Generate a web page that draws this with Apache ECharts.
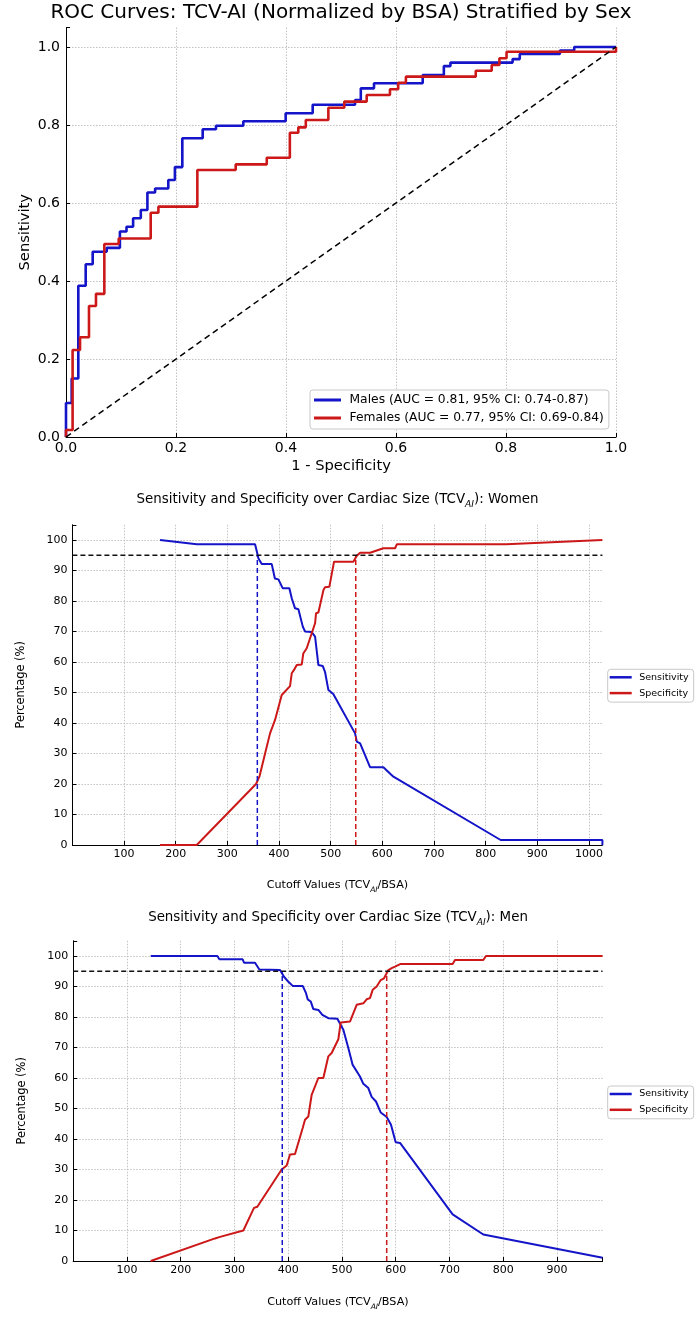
<!DOCTYPE html>
<html><head><meta charset="utf-8">
<script src="https://cdn.jsdelivr.net/npm/echarts@6/dist/echarts.min.js"></script>
<style>html,body{margin:0;padding:0;background:#fff}#c{width:700px;height:1322px}</style>
</head><body><div id="c"></div>
<script>
// ---------- ROC data ----------
const rocTicks = [0, 0.2, 0.4, 0.6, 0.8, 1.0];
const maleFpr = [0,0,0.0103,0.0224,0.0358,0.0485,0.074,0.098,0.110,0.122,0.136,0.148,0.162,0.186,0.198,0.2115,0.2485,0.2727,0.3224,0.3994,0.4485,0.5255,0.536,0.560,0.6485,0.687,0.699,0.812,0.825,0.898,0.924,1.0];
const maleTpr = [0,0.087,0.150,0.388,0.443,0.475,0.485,0.527,0.539,0.561,0.582,0.627,0.637,0.659,0.692,0.766,0.789,0.798,0.8095,0.830,0.852,0.864,0.894,0.907,0.928,0.951,0.960,0.969,0.982,0.991,1.0,1.0];
const femFpr = [0,0,0.012,0.0255,0.0418,0.0545,0.0697,0.0958,0.154,0.168,0.2388,0.3085,0.365,0.407,0.4224,0.436,0.477,0.506,0.5467,0.589,0.604,0.618,0.745,0.774,0.788,0.801,1.0,1.0];
const femTpr = [0,0.018,0.223,0.2556,0.336,0.367,0.495,0.509,0.575,0.5906,0.6846,0.699,0.716,0.780,0.794,0.813,0.8444,0.860,0.877,0.8915,0.9085,0.924,0.939,0.954,0.971,0.988,0.988,1.0];
const diagX = [0, 1];
const diagY = [0, 1];
const maleLabel = 'Males (AUC = 0.81, 95% CI: 0.74-0.87)';
const femLabel = 'Females (AUC = 0.77, 95% CI: 0.69-0.84)';

// ---------- Women cutoff data ----------
const wSensX = [169.7,240.7,353.6,358,360,366.5,385.9,392,398.8,407,420,424.6,431,437.5,446,450.4,463.3,469.8,476.2,484.6,489,495.6,505,547.2,550.5,557,576.2,602,621.4,829,1026,1026];
const wSensY = [100,98.6,98.6,95.6,94,92.1,92.1,87.4,87.1,84.2,84.2,80.9,77.6,77.3,71.6,70,69.8,68.3,59,58.7,56.8,50.8,49.5,36.6,33.9,33.3,25.5,25.5,22.4,1.64,1.64,0];
const wSpecX = [169.7,240.7,355.5,362,373,382.6,392.3,405.2,421.3,424.6,429,434.3,444,447,453.6,469.8,471.7,476.2,486,489,497.5,506.5,544,550.5,557,576.2,602,624.7,628,840,1026];
const wSpecY = [0,0,20,22.4,30,36.6,41,49.2,52.1,56.3,57.4,59,59.2,62.8,64.5,72.7,76,76.2,83.6,84.5,84.7,92.9,92.9,94.8,95.8,95.8,97.3,97.3,98.6,98.6,100];
const wSensCut = 358;
const wSpecCut = 548.5;

// ---------- Men cutoff data ----------
const mSensX = [144.2,268.2,272,315.3,317.8,338.3,346.4,384.8,392.2,398.4,408.4,427,433.2,436.3,441.9,446.8,456.1,463.6,474.7,491.5,502.6,511.9,520,533.6,539.8,549.1,555.3,563.4,572.1,583.3,591.3,600,608.1,706,763,985];
const mSensY = [100,100,98.9,98.9,97.8,97.8,95.6,95.4,93.2,91.9,90.2,90.2,87.8,85.8,85.1,82.6,82.3,80.7,79.6,79.4,75.8,69.8,64.3,60.5,58.1,56.7,53.8,52.3,48.7,47.2,44.7,38.9,38.7,15.3,8.7,1.1];
const mSpecX = [144.2,263.9,273.2,316.6,336.4,342.6,387.9,397.2,403.4,412.7,427,431.3,437.5,443.7,456.1,465.4,474.7,480.9,493.3,497.7,515,527.4,539.8,546,552.2,557.2,564.7,572.1,578.3,586.4,592.6,598.8,609.3,706,710.3,763,768,985];
const mSpecY = [0,7.4,7.9,10,17.4,17.8,30,31.3,34.9,35.1,43.6,46.3,47.4,54.5,60,60,67.1,68.2,72.7,78.2,78.5,84,84.5,85.8,86.2,88.9,90,92.1,92.7,95.4,96,96.5,97.4,97.4,98.7,98.7,100,100];
const mSensCut = 389;
const mSpecCut = 583.3;

const threshold = 95;
const pctTicks = [0,10,20,30,40,50,60,70,80,90,100];
const cutTicks = [100,200,300,400,500,600,700,800,900,1000];

// ---------- helpers ----------
const FONT = 'DejaVu Sans';
const BLUE = '#1414c8';
const RED = '#cc1818';
const zip = (xs, ys) => xs.map((x, i) => [x, ys[i]]);

const gridLine = { show: true, showMaxLine: false, lineStyle: { color: '#b4b4b4', width: 0.8, type: [1.5, 1.5] } };
const tick = { show: true, inside: true, length: 4, lineStyle: { color: '#000', width: 1 } };
const axLine = { show: true, onZero: false, lineStyle: { color: '#000', width: 1 } };
const subRich = (fs) => ({
  n: { fontFamily: FONT, fontSize: fs, fontWeight: 'normal', color: '#000', lineHeight: 18, verticalAlign: 'middle' },
  s: { fontFamily: FONT, fontSize: fs * 0.68, fontWeight: 'normal', fontStyle: 'italic', color: '#000', lineHeight: 10, verticalAlign: 'bottom' }
});

function cutAxisX(gi, maxV, gap) {
  return {
    gridIndex: gi, type: 'value', min: 0, max: maxV, interval: 100,
    axisLine: axLine, axisTick: tick, splitLine: gridLine,
    axisLabel: { fontFamily: FONT, fontSize: 11, color: '#000', margin: 4,
      formatter: v => (v > 0 && cutTicks.indexOf(Math.round(v)) >= 0 && Math.abs(v - Math.round(v)) < 1e-6) ? String(Math.round(v)) : '' },
    name: '{n|Cutoff Values (TCV}{s|AI}{n|/BSA)}', nameLocation: 'middle', nameGap: gap,
    nameTextStyle: { fontWeight: 'normal', rich: subRich(11.2) }
  };
}
function pctAxisY(gi) {
  return {
    gridIndex: gi, type: 'value', min: 0, max: 105, interval: 10,
    axisLine: axLine, axisTick: tick, splitLine: gridLine,
    axisLabel: { fontFamily: FONT, fontSize: 11, color: '#000', margin: 5,
      formatter: v => pctTicks.indexOf(Math.round(v)) >= 0 && Math.abs(v - Math.round(v)) < 1e-6 ? String(Math.round(v)) : '' },
    name: 'Percentage (%)', nameLocation: 'middle', nameGap: 46,
    nameTextStyle: { fontFamily: FONT, fontSize: 11.4, color: '#000' }
  };
}
function line(name, gi, data, color, width, extra) {
  return Object.assign({
    name, type: 'line', xAxisIndex: gi, yAxisIndex: gi, data, symbol: 'none', showSymbol: false,
    lineStyle: { color, width }, itemStyle: { color }, silent: true, animation: false, z: 3
  }, extra || {});
}
function dashed(gi, data, color) {
  return line('', gi, data, color, 1.5, { lineStyle: { color, width: 1.5, type: [5, 3] }, z: 4 });
}
function panelLegend(top) {
  return {
    data: ['Sensitivity', 'Specificity'], left: 607.7, top, orient: 'vertical', icon: 'rect',
    itemWidth: 22, itemHeight: 2.5, itemGap: 5.8, padding: [3, 5, 4, 2],
    borderColor: '#c8c8c8', borderWidth: 1, borderRadius: 3, backgroundColor: '#fff',
    selectedMode: false,
    textStyle: { fontFamily: FONT, fontSize: 9.5, color: '#000', padding: [0, 0, 0, 2.5] }
  };
}

const option = {
  animation: false,
  backgroundColor: '#fff',
  title: [
    { text: 'ROC Curves: TCV-AI (Normalized by BSA) Stratified by Sex', left: 341, top: 3, textAlign: 'center', padding: 0,
      textStyle: { fontFamily: FONT, fontSize: 20, fontWeight: 'normal', color: '#000' } },
    { text: '{n|Sensitivity and Specificity over Cardiac Size (TCV}{s|AI}{n|): Women}', left: 337.5, top: 491, textAlign: 'center', padding: 0,
      textStyle: { fontWeight: 'normal', rich: subRich(13.4) } },
    { text: '{n|Sensitivity and Specificity over Cardiac Size (TCV}{s|AI}{n|): Men}', left: 338, top: 909, textAlign: 'center', padding: 0,
      textStyle: { fontWeight: 'normal', rich: subRich(13.4) } }
  ],
  legend: [
    { data: [maleLabel, femLabel], left: 310, top: 390, orient: 'vertical', icon: 'rect',
      itemWidth: 27, itemHeight: 3, itemGap: 6, padding: [4, 5, 5, 4],
      borderColor: '#c8c8c8', borderWidth: 1, borderRadius: 3, backgroundColor: '#fff', selectedMode: false,
      textStyle: { fontFamily: FONT, fontSize: 12.3, color: '#000', padding: [0, 0, 0, 3.5] } },
    panelLegend(669.3),
    panelLegend(1086)
  ],
  grid: [
    { left: 66, top: 27.5, width: 550, height: 409.5 },
    { left: 72.4, top: 524.75, width: 530, height: 320.25 },
    { left: 73.2, top: 940.75, width: 529.4, height: 320.25 }
  ],
  xAxis: [
    { gridIndex: 0, type: 'value', min: 0, max: 1, interval: 0.2,
      axisLine: axLine, axisTick: tick, splitLine: { show: true, lineStyle: gridLine.lineStyle },
      axisLabel: { fontFamily: FONT, fontSize: 14, color: '#000', margin: 4, formatter: v => v.toFixed(1) },
      name: '1 - Specificity', nameLocation: 'middle', nameGap: 22,
      nameTextStyle: { fontFamily: FONT, fontSize: 14.7, color: '#000' } },
    cutAxisX(1, wSensX[wSensX.length - 1], 31),
    cutAxisX(2, mSensX[mSensX.length - 1], 31.7)
  ],
  yAxis: [
    { gridIndex: 0, type: 'value', min: 0, max: 1.05, interval: 0.2,
      axisLine: axLine, axisTick: tick, splitLine: gridLine,
      axisLabel: { fontFamily: FONT, fontSize: 14, color: '#000', margin: 6,
        formatter: v => rocTicks.some(t => Math.abs(t - v) < 1e-6) ? v.toFixed(1) : '' },
      name: 'Sensitivity', nameLocation: 'middle', nameGap: 33, nameMoveOverlap: false,
      nameTextStyle: { fontFamily: FONT, fontSize: 14.7, color: '#000' } },
    pctAxisY(1),
    pctAxisY(2)
  ],
  series: [
    line(maleLabel, 0, zip(maleFpr, maleTpr), BLUE, 2.6, { step: 'end' }),
    line(femLabel, 0, zip(femFpr, femTpr), RED, 2.6, { step: 'end' }),
    line('', 0, zip(diagX, diagY), '#000', 1.5, { lineStyle: { color: '#000', width: 1.5, type: [6, 4] }, z: 4 }),

    line('Sensitivity', 1, zip(wSensX, wSensY), BLUE, 2),
    line('Specificity', 1, zip(wSpecX, wSpecY), RED, 2),
    dashed(1, [[wSensCut, 0], [wSensCut, threshold]], BLUE),
    dashed(1, [[wSpecCut, 0], [wSpecCut, threshold]], RED),
    dashed(1, [[0, threshold], [wSensX[wSensX.length - 1], threshold]], '#111'),

    line('Sensitivity', 2, zip(mSensX, mSensY), BLUE, 2),
    line('Specificity', 2, zip(mSpecX, mSpecY), RED, 2),
    dashed(2, [[mSensCut, 0], [mSensCut, threshold]], BLUE),
    dashed(2, [[mSpecCut, 0], [mSpecCut, threshold]], RED),
    dashed(2, [[0, threshold], [mSensX[mSensX.length - 1], threshold]], '#111')
  ]
};

const chart = echarts.init(document.getElementById('c'), null, { renderer: 'canvas' });
chart.setOption(option);
</script></body></html>
